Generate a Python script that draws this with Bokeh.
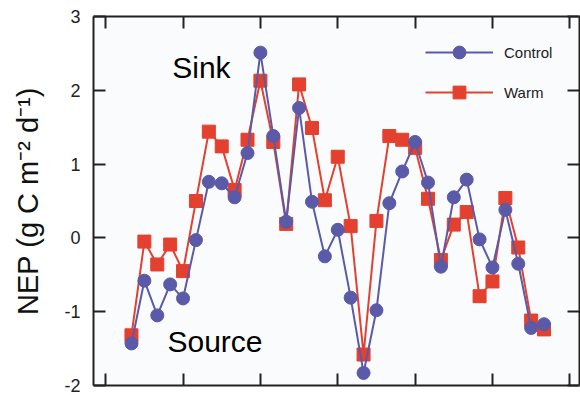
from bokeh.plotting import figure
from bokeh.models import Range1d, LinearAxis, FixedTicker, Legend, LegendItem, Label
from bokeh.embed import file_html
from bokeh.resources import INLINE

# ---- data ----
months = list(range(33))
control = [-1.43, -0.58, -1.05, -0.63, -0.82, -0.03, 0.76, 0.74, 0.55, 1.15,
           2.51, 1.38, 0.22, 1.76, 0.49, -0.25, 0.11, -0.81, -1.83, -0.98,
           0.47, 0.90, 1.30, 0.75, -0.39, 0.55, 0.79, -0.02, -0.40, 0.38,
           -0.35, -1.22, -1.17]
warm = [-1.32, -0.05, -0.36, -0.09, -0.45, 0.50, 1.44, 1.24, 0.65, 1.33,
        2.13, 1.30, 0.19, 2.08, 1.49, 0.51, 1.10, 0.16, -1.58, 0.23,
        1.38, 1.33, 1.22, 0.53, -0.30, 0.18, 0.35, -0.79, -0.59, 0.54,
        -0.13, -1.12, -1.24]
x_ticks = [-2, 4, 10, 16, 22, 28, 34]
y_ticks = [-2, -1, 0, 1, 2, 3]
y_tick_labels = ["-2", "-1", "0", "1", "2", "3"]
series_names = ["Control", "Warm"]

BLUE = "#5a5aa8"
RED = "#e3402f"
AXC = "#222222"
FONT = "Liberation Sans"

p = figure(width=580, height=395,
           x_range=Range1d(-2.946, 34.75), y_range=Range1d(-2, 3),
           output_backend="svg", toolbar_location=None,
           min_border_left=93, min_border_right=1,
           min_border_top=16, min_border_bottom=10,
           background_fill_color="#fafbfd", border_fill_color="white")
p.grid.visible = False
p.outline_line_color = None

def style_axis(ax, ticks, labels=None):
    ax.ticker = FixedTicker(ticks=ticks)
    ax.axis_line_width = 2
    ax.axis_line_color = AXC
    ax.major_tick_line_width = 2
    ax.major_tick_line_color = AXC
    ax.major_tick_in = 12
    ax.major_tick_out = 0
    ax.minor_tick_line_color = None
    if labels is not None:
        ax.major_label_overrides = {t: s for t, s in zip(ticks, labels)}
        ax.major_label_text_font = FONT
        ax.major_label_text_font_size = "18px"
        ax.major_label_text_color = "#222222"
        ax.major_label_standoff = 13
    else:
        ax.major_label_overrides = {t: "" for t in ticks}
        ax.major_label_text_font_size = "1px"
        ax.major_label_standoff = 0

style_axis(p.xaxis[0], x_ticks)

yl = p.yaxis[0]
style_axis(yl, y_ticks, y_tick_labels)
yl.axis_label = "NEP (g C m\u207b\u00b2 d\u207b\u00b9)"
yl.axis_label_text_font = FONT
yl.axis_label_text_font_size = "29px"
yl.axis_label_text_font_style = "normal"
yl.axis_label_text_color = "#111111"
yl.axis_label_standoff = 17

xt = LinearAxis()
style_axis(xt, x_ticks)
p.add_layout(xt, "above")

yr = LinearAxis()
style_axis(yr, y_ticks)
p.add_layout(yr, "right")

# ---- series ----
rl = p.line(months, warm, line_color=RED, line_width=2)
rs = p.scatter(months, warm, marker="square", size=13, fill_color=RED, line_color=RED)
bl = p.line(months, control, line_color=BLUE, line_width=2)
bs = p.scatter(months, control, marker="circle", size=13, fill_color=BLUE, line_color=BLUE)

legend = Legend(items=[LegendItem(label=series_names[0], renderers=[bl, bs]),
                       LegendItem(label=series_names[1], renderers=[rl, rs])],
                location=(332, 277), orientation="vertical",
                glyph_width=68, glyph_height=32, spacing=8,
                label_standoff=11, padding=0, margin=0,
                label_text_font=FONT, label_text_font_size="15px",
                label_text_color="#222222",
                border_line_color=None, background_fill_alpha=0)
p.add_layout(legend)

p.add_layout(Label(x=3.16, y=2.31, text="Sink", text_font=FONT,
                   text_font_size="30px", text_color="black",
                   text_baseline="alphabetic"))
p.add_layout(Label(x=2.79, y=-1.40, text="Source", text_font=FONT,
                   text_font_size="30px", text_color="black",
                   text_baseline="alphabetic"))

open("out.html", "w").write(file_html(p, INLINE))
